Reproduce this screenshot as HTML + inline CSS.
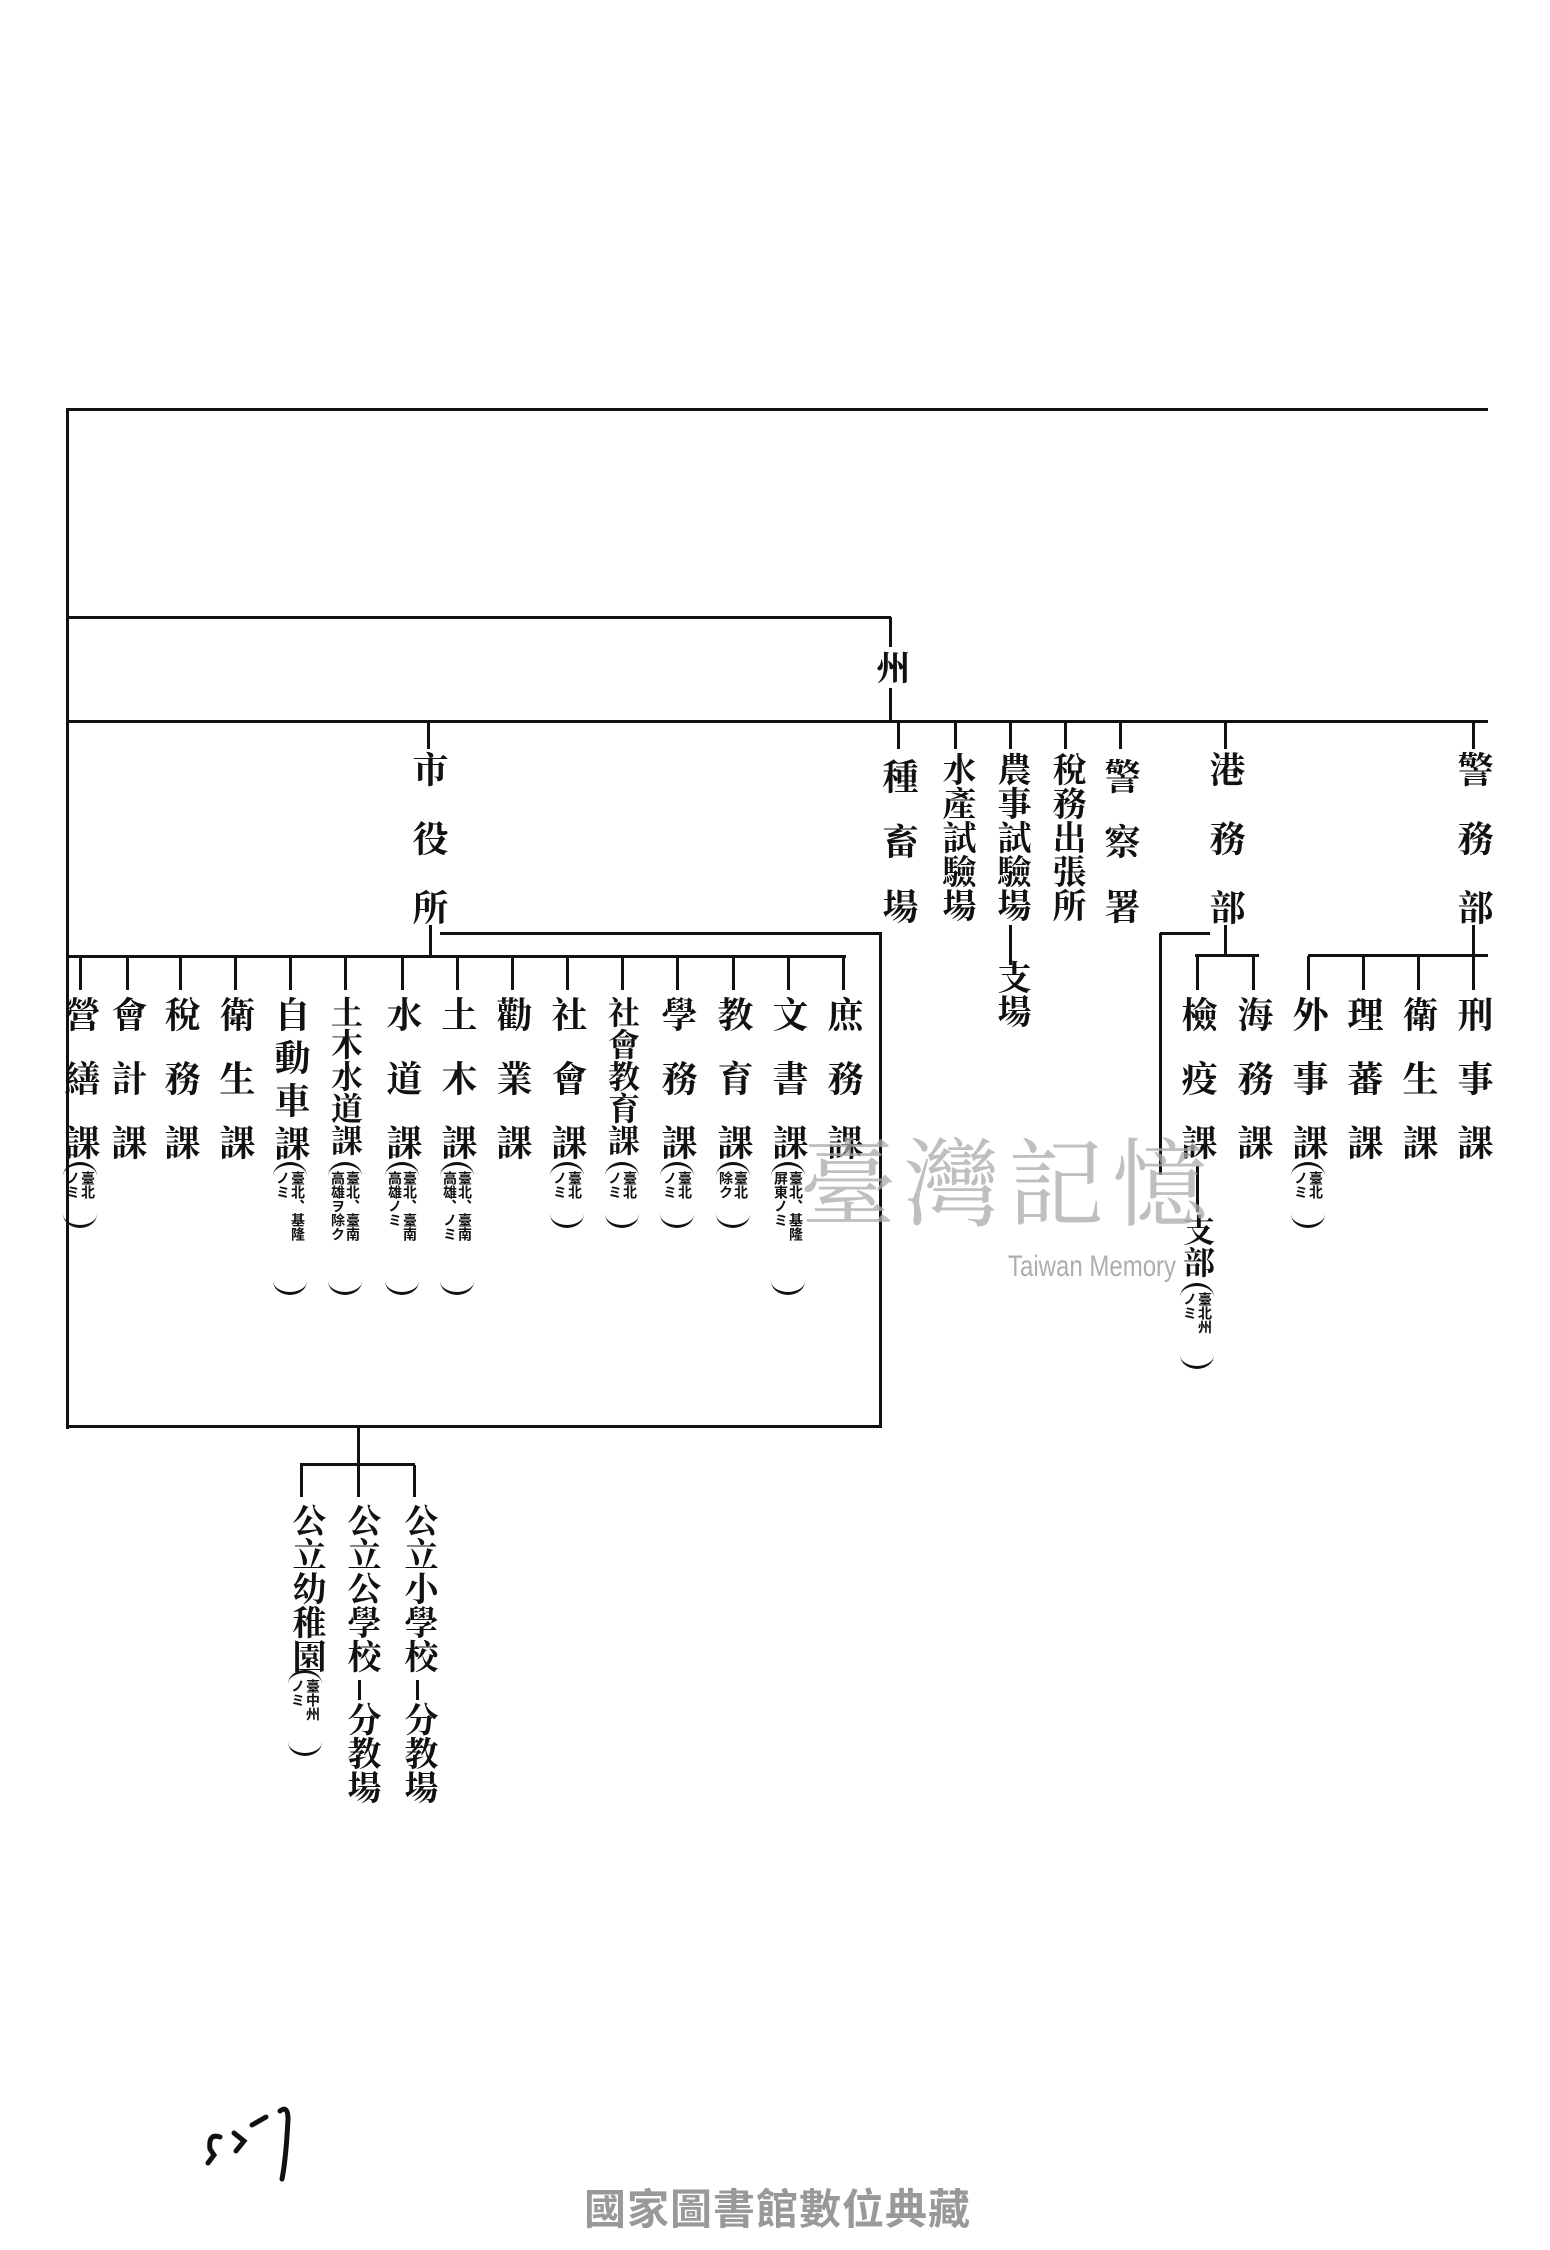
<!DOCTYPE html>
<html><head><meta charset="utf-8"><style>
html,body{margin:0;padding:0;background:#fff;}
#p{position:relative;width:1550px;height:2250px;overflow:hidden;background:#fff;}
.h{position:absolute;height:3px;background:#111;}
.l{position:absolute;width:3px;background:#111;}
.v{position:absolute;writing-mode:vertical-rl;font-family:"Liberation Serif","Noto Serif CJK SC","Noto Sans CJK SC",serif;font-weight:bold;color:#111;line-height:1;white-space:nowrap;}
.a{position:absolute;width:34px;border-top:3px solid #111;border-bottom:3px solid #111;border-radius:50%/14px;box-sizing:border-box;}
.a span{position:absolute;left:2px;top:6px;writing-mode:vertical-rl;font-family:"Noto Sans CJK SC",sans-serif;font-weight:bold;font-size:14px;line-height:15px;color:#111;white-space:nowrap;}
</style></head><body><div id="p">
<div class="l" style="left:66px;top:409px;height:1020px;width:3px"></div>
<div class="h" style="left:66px;top:408px;width:1422px"></div>
<div class="h" style="left:66px;top:616px;width:825px"></div>
<div class="l" style="left:889px;top:617px;height:30px"></div>
<div class="v" style="left:872px;top:650px;font-size:34px">州</div>
<div class="l" style="left:889px;top:688px;height:33px"></div>
<div class="h" style="left:66px;top:720px;width:1422px"></div>

<div class="l" style="left:427px;top:721px;height:28px"></div>
<div class="l" style="left:897px;top:721px;height:28px"></div>
<div class="l" style="left:954px;top:721px;height:28px"></div>
<div class="l" style="left:1009px;top:721px;height:28px"></div>
<div class="l" style="left:1064px;top:721px;height:28px"></div>
<div class="l" style="left:1119px;top:721px;height:28px"></div>
<div class="l" style="left:1224px;top:721px;height:28px"></div>
<div class="l" style="left:1472px;top:721px;height:28px"></div>

<div class="v" style="left:410px;top:751px;font-size:36px;letter-spacing:33px">市役所</div>
<div class="v" style="left:880px;top:758px;font-size:36px;letter-spacing:29px">種畜場</div>
<div class="v" style="left:938px;top:752px;font-size:34px;letter-spacing:0px">水產試驗場</div>
<div class="v" style="left:993px;top:752px;font-size:34px;letter-spacing:0px">農事試驗場</div>
<div class="l" style="left:1009px;top:925px;height:40px"></div>
<div class="v" style="left:993px;top:960px;font-size:34px">支場</div>
<div class="v" style="left:1048px;top:752px;font-size:34px;letter-spacing:0px">稅務出張所</div>
<div class="v" style="left:1102px;top:758px;font-size:36px;letter-spacing:29px">警察署</div>
<div class="v" style="left:1207px;top:751px;font-size:36px;letter-spacing:33px">港務部</div>
<div class="v" style="left:1455px;top:751px;font-size:36px;letter-spacing:33px">警務部</div>

<div class="l" style="left:429px;top:925px;height:32px"></div>
<div class="h" style="left:440px;top:932px;width:442px"></div>
<div class="l" style="left:879px;top:933px;height:495px;width:3px"></div>
<div class="h" style="left:66px;top:955px;width:780px"></div>
<div class="h" style="left:66px;top:1425px;width:816px"></div>

<div class="h" style="left:1160px;top:932px;width:50px"></div>
<div class="l" style="left:1159px;top:933px;height:242px"></div>
<div class="l" style="left:1224px;top:925px;height:31px"></div>
<div class="h" style="left:1195px;top:954px;width:64px"></div>
<div class="l" style="left:1472px;top:925px;height:31px"></div>
<div class="h" style="left:1308px;top:954px;width:180px"></div>

<div class="l" style="left:79px;top:956px;height:34px"></div>
<div class="l" style="left:126px;top:956px;height:34px"></div>
<div class="l" style="left:179px;top:956px;height:34px"></div>
<div class="l" style="left:234px;top:956px;height:34px"></div>
<div class="l" style="left:289px;top:956px;height:34px"></div>
<div class="l" style="left:344px;top:956px;height:34px"></div>
<div class="l" style="left:401px;top:956px;height:34px"></div>
<div class="l" style="left:456px;top:956px;height:34px"></div>
<div class="l" style="left:511px;top:956px;height:34px"></div>
<div class="l" style="left:566px;top:956px;height:34px"></div>
<div class="l" style="left:621px;top:956px;height:34px"></div>
<div class="l" style="left:676px;top:956px;height:34px"></div>
<div class="l" style="left:732px;top:956px;height:34px"></div>
<div class="l" style="left:787px;top:956px;height:34px"></div>
<div class="l" style="left:842px;top:956px;height:34px"></div>
<div class="l" style="left:1196px;top:956px;height:34px"></div>
<div class="l" style="left:1252px;top:956px;height:34px"></div>
<div class="l" style="left:1307px;top:956px;height:34px"></div>
<div class="l" style="left:1362px;top:956px;height:34px"></div>
<div class="l" style="left:1417px;top:956px;height:34px"></div>
<div class="l" style="left:1472px;top:956px;height:34px"></div>

<div class="v" style="left:62px;top:996px;font-size:36px;letter-spacing:28px">營繕課</div>
<div class="v" style="left:109px;top:996px;font-size:36px;letter-spacing:28px">會計課</div>
<div class="v" style="left:162px;top:996px;font-size:36px;letter-spacing:28px">稅務課</div>
<div class="v" style="left:217px;top:996px;font-size:36px;letter-spacing:28px">衛生課</div>
<div class="v" style="left:272px;top:996px;font-size:36px;letter-spacing:7px">自動車課</div>
<div class="v" style="left:329px;top:996px;font-size:32px;letter-spacing:0px">土木水道課</div>
<div class="v" style="left:384px;top:996px;font-size:36px;letter-spacing:28px">水道課</div>
<div class="v" style="left:439px;top:996px;font-size:36px;letter-spacing:28px">土木課</div>
<div class="v" style="left:494px;top:996px;font-size:36px;letter-spacing:28px">勸業課</div>
<div class="v" style="left:549px;top:996px;font-size:36px;letter-spacing:28px">社會課</div>
<div class="v" style="left:606px;top:996px;font-size:32px;letter-spacing:0px">社會教育課</div>
<div class="v" style="left:659px;top:996px;font-size:36px;letter-spacing:28px">學務課</div>
<div class="v" style="left:715px;top:996px;font-size:36px;letter-spacing:28px">教育課</div>
<div class="v" style="left:770px;top:996px;font-size:36px;letter-spacing:28px">文書課</div>
<div class="v" style="left:825px;top:996px;font-size:36px;letter-spacing:28px">庶務課</div>
<div class="v" style="left:1179px;top:996px;font-size:36px;letter-spacing:28px">檢疫課</div>
<div class="v" style="left:1235px;top:996px;font-size:36px;letter-spacing:28px">海務課</div>
<div class="v" style="left:1290px;top:996px;font-size:36px;letter-spacing:28px">外事課</div>
<div class="v" style="left:1345px;top:996px;font-size:36px;letter-spacing:28px">理蕃課</div>
<div class="v" style="left:1400px;top:996px;font-size:36px;letter-spacing:28px">衛生課</div>
<div class="v" style="left:1455px;top:996px;font-size:36px;letter-spacing:28px">刑事課</div>

<div class="a" style="left:63px;top:1162px;height:66px"><span>臺北<br>ノミ</span></div>
<div class="a" style="left:273px;top:1162px;height:133px"><span>臺北、基隆<br>ノミ</span></div>
<div class="a" style="left:328px;top:1162px;height:133px"><span>臺北、臺南<br>高雄ヲ除ク</span></div>
<div class="a" style="left:385px;top:1162px;height:133px"><span>臺北、臺南<br>高雄ノミ</span></div>
<div class="a" style="left:440px;top:1162px;height:133px"><span>臺北、臺南<br>高雄、ノミ</span></div>
<div class="a" style="left:550px;top:1162px;height:66px"><span>臺北<br>ノミ</span></div>
<div class="a" style="left:605px;top:1162px;height:66px"><span>臺北<br>ノミ</span></div>
<div class="a" style="left:660px;top:1162px;height:66px"><span>臺北<br>ノミ</span></div>
<div class="a" style="left:716px;top:1162px;height:66px"><span>臺北<br>除ク</span></div>
<div class="a" style="left:771px;top:1162px;height:133px"><span>臺北、基隆<br>屏東ノミ</span></div>
<div class="a" style="left:1291px;top:1162px;height:66px"><span>臺北<br>ノミ</span></div>
<div class="l" style="left:1196px;top:1166px;height:46px"></div>
<div class="v" style="left:1181px;top:1214px;font-size:32px">支部</div>
<div class="a" style="left:1180px;top:1283px;height:86px"><span>臺北州<br>ノミ</span></div>

<div class="l" style="left:357px;top:1428px;height:37px"></div>
<div class="h" style="left:300px;top:1463px;width:115px"></div>
<div class="l" style="left:300px;top:1465px;height:32px"></div>
<div class="l" style="left:357px;top:1465px;height:32px"></div>
<div class="l" style="left:413px;top:1465px;height:32px"></div>
<div class="v" style="left:288px;top:1503px;font-size:34px;letter-spacing:0px">公立幼稚園</div>
<div class="a" style="left:288px;top:1670px;height:86px"><span>臺中州<br>ノミ</span></div>
<div class="v" style="left:343px;top:1503px;font-size:34px;letter-spacing:0px">公立公學校</div>
<div class="l" style="left:358px;top:1680px;height:20px"></div>
<div class="v" style="left:343px;top:1702px;font-size:34px;letter-spacing:0px">分教場</div>
<div class="v" style="left:400px;top:1503px;font-size:34px;letter-spacing:0px">公立小學校</div>
<div class="l" style="left:416px;top:1680px;height:20px"></div>
<div class="v" style="left:400px;top:1702px;font-size:34px;letter-spacing:0px">分教場</div>

<div style="position:absolute;left:800px;top:1130px;font-family:'Noto Serif CJK SC',serif;font-size:96px;color:#aaa;opacity:.75;letter-spacing:8px;line-height:1">臺灣記憶</div>
<div style="position:absolute;left:1008px;top:1250px;font-family:'Liberation Sans',sans-serif;font-size:30px;color:#999;opacity:.8;transform:scaleX(.8);transform-origin:left">Taiwan Memory</div>

<svg style="position:absolute;left:200px;top:2105px" width="120" height="80"><path d="M20 32 q-12 -4 -10 12 l4 6 l-6 8 M34 28 l10 8 l-8 10 M52 20 l14 -8 M80 6 q8 -6 8 8 q-2 40 -6 60" stroke="#111" stroke-width="5" fill="none" stroke-linecap="round"/></svg>

<div style="position:absolute;left:584px;top:2186px;font-family:'Noto Sans CJK TC',sans-serif;font-weight:bold;font-size:42px;color:#999;line-height:1;letter-spacing:1px">國家圖書館數位典藏</div>
</div></body></html>
